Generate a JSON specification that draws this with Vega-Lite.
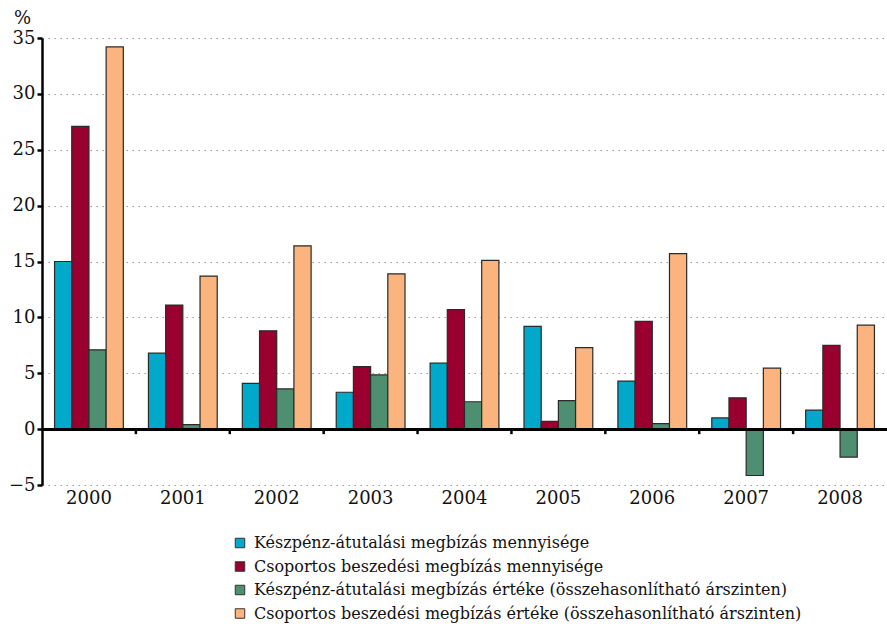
{
  "$schema": "https://vega.github.io/schema/vega-lite/v6.json",
  "width": 845,
  "height": 447,
  "autosize": {"type": "none"},
  "padding": {"left": 42, "top": 38, "right": 0, "bottom": 145},
  "background": "white",
  "config": {
    "view": {"stroke": null},
    "font": "DejaVu Serif"
  },
  "data": {
    "values": [
      {"year": "2000", "series": "Készpénz-átutalási megbízás mennyisége", "value": 15.0},
      {"year": "2000", "series": "Csoportos beszedési megbízás mennyisége", "value": 27.1},
      {"year": "2000", "series": "Készpénz-átutalási megbízás értéke (összehasonlítható árszinten)", "value": 7.1},
      {"year": "2000", "series": "Csoportos beszedési megbízás értéke (összehasonlítható árszinten)", "value": 34.2},
      {"year": "2001", "series": "Készpénz-átutalási megbízás mennyisége", "value": 6.8},
      {"year": "2001", "series": "Csoportos beszedési megbízás mennyisége", "value": 11.1},
      {"year": "2001", "series": "Készpénz-átutalási megbízás értéke (összehasonlítható árszinten)", "value": 0.4},
      {"year": "2001", "series": "Csoportos beszedési megbízás értéke (összehasonlítható árszinten)", "value": 13.7},
      {"year": "2002", "series": "Készpénz-átutalási megbízás mennyisége", "value": 4.1},
      {"year": "2002", "series": "Csoportos beszedési megbízás mennyisége", "value": 8.8},
      {"year": "2002", "series": "Készpénz-átutalási megbízás értéke (összehasonlítható árszinten)", "value": 3.6},
      {"year": "2002", "series": "Csoportos beszedési megbízás értéke (összehasonlítható árszinten)", "value": 16.4},
      {"year": "2003", "series": "Készpénz-átutalási megbízás mennyisége", "value": 3.3},
      {"year": "2003", "series": "Csoportos beszedési megbízás mennyisége", "value": 5.6},
      {"year": "2003", "series": "Készpénz-átutalási megbízás értéke (összehasonlítható árszinten)", "value": 4.85},
      {"year": "2003", "series": "Csoportos beszedési megbízás értéke (összehasonlítható árszinten)", "value": 13.9},
      {"year": "2004", "series": "Készpénz-átutalási megbízás mennyisége", "value": 5.9},
      {"year": "2004", "series": "Csoportos beszedési megbízás mennyisége", "value": 10.7},
      {"year": "2004", "series": "Készpénz-átutalási megbízás értéke (összehasonlítható árszinten)", "value": 2.45},
      {"year": "2004", "series": "Csoportos beszedési megbízás értéke (összehasonlítható árszinten)", "value": 15.1},
      {"year": "2005", "series": "Készpénz-átutalási megbízás mennyisége", "value": 9.2},
      {"year": "2005", "series": "Csoportos beszedési megbízás mennyisége", "value": 0.7},
      {"year": "2005", "series": "Készpénz-átutalási megbízás értéke (összehasonlítható árszinten)", "value": 2.55},
      {"year": "2005", "series": "Csoportos beszedési megbízás értéke (összehasonlítható árszinten)", "value": 7.3},
      {"year": "2006", "series": "Készpénz-átutalási megbízás mennyisége", "value": 4.3},
      {"year": "2006", "series": "Csoportos beszedési megbízás mennyisége", "value": 9.65},
      {"year": "2006", "series": "Készpénz-átutalási megbízás értéke (összehasonlítható árszinten)", "value": 0.5},
      {"year": "2006", "series": "Csoportos beszedési megbízás értéke (összehasonlítható árszinten)", "value": 15.7},
      {"year": "2007", "series": "Készpénz-átutalási megbízás mennyisége", "value": 1.0},
      {"year": "2007", "series": "Csoportos beszedési megbízás mennyisége", "value": 2.8},
      {"year": "2007", "series": "Készpénz-átutalási megbízás értéke (összehasonlítható árszinten)", "value": -4.15},
      {"year": "2007", "series": "Csoportos beszedési megbízás értéke (összehasonlítható árszinten)", "value": 5.45},
      {"year": "2008", "series": "Készpénz-átutalási megbízás mennyisége", "value": 1.7},
      {"year": "2008", "series": "Csoportos beszedési megbízás mennyisége", "value": 7.5},
      {"year": "2008", "series": "Készpénz-átutalási megbízás értéke (összehasonlítható árszinten)", "value": -2.5},
      {"year": "2008", "series": "Csoportos beszedési megbízás értéke (összehasonlítható árszinten)", "value": 9.3}
    ]
  },
  "encoding": {
    "x": {
      "field": "year",
      "type": "nominal",
      "scale": {"paddingInner": 0, "paddingOuter": 0},
      "axis": {
        "title": null,
        "labelAngle": 0,
        "domain": false,
        "ticks": false,
        "labelFontSize": 18,
        "labelColor": "#111",
        "labelPadding": 4,
        "labelFont": "DejaVu Serif"
      }
    }
  },
  "layer": [
    {
      "mark": {"type": "bar", "stroke": "#2a2a2a", "strokeWidth": 1.2},
      "encoding": {
        "xOffset": {
          "field": "series",
          "type": "nominal",
          "sort": [
            "Készpénz-átutalási megbízás mennyisége",
            "Csoportos beszedési megbízás mennyisége",
            "Készpénz-átutalási megbízás értéke (összehasonlítható árszinten)",
            "Csoportos beszedési megbízás értéke (összehasonlítható árszinten)"
          ],
          "scale": {"paddingInner": 0, "paddingOuter": 0.73}
        },
        "y": {
          "field": "value",
          "type": "quantitative",
          "scale": {"domain": [-5, 35], "nice": false, "zero": false},
          "axis": {
            "title": "%",
            "titleAngle": 0,
            "titleX": -20,
            "titleY": -20,
            "titleAlign": "center",
            "titleBaseline": "middle",
            "titleFont": "DejaVu Serif",
            "titleFontSize": 18,
            "titleFontWeight": "normal",
            "titleColor": "#111",
            "values": [-5, 0, 5, 10, 15, 20, 25, 30, 35],
            "labelExpr": "datum.value < 0 ? '\u2212' + abs(datum.value) : datum.label",
            "labelFontSize": 18,
            "labelFont": "DejaVu Serif",
            "labelColor": "#111",
            "labelPadding": 2,
            "domainColor": "#000",
            "domainWidth": 2.5,
            "tickColor": "#000",
            "tickWidth": 2.5,
            "tickSize": 5,
            "grid": true,
            "gridDash": [1.5, 4.5],
            "gridColor": "#999",
            "gridWidth": 1.2
          }
        },
        "color": {
          "field": "series",
          "type": "nominal",
          "scale": {
            "domain": [
              "Készpénz-átutalási megbízás mennyisége",
              "Csoportos beszedési megbízás mennyisége",
              "Készpénz-átutalási megbízás értéke (összehasonlítható árszinten)",
              "Csoportos beszedési megbízás értéke (összehasonlítható árszinten)"
            ],
            "range": ["#00A9C9", "#990030", "#4E8F72", "#FBB47E"]
          },
          "legend": {
            "title": null,
            "orient": "none",
            "legendX": 190,
            "legendY": 497,
            "direction": "vertical",
            "columns": 1,
            "symbolType": "square",
            "symbolSize": 90,
            "symbolStrokeColor": "#333",
            "symbolStrokeWidth": 1,
            "labelFont": "DejaVu Serif",
            "labelFontSize": 16,
            "labelColor": "#111",
            "labelLimit": 700,
            "rowPadding": 7.5,
            "symbolOffset": 0,
            "labelOffset": 6
          }
        }
      }
    },
    {
      "mark": {"type": "rule", "color": "#000", "strokeWidth": 2.5},
      "encoding": {"y": {"datum": 0, "type": "quantitative"}, "x": null}
    },
    {
      "transform": [
        {"filter": "datum.year != '2000' && datum.series == 'Készpénz-átutalási megbízás mennyisége'"}
      ],
      "mark": {"type": "rule", "color": "#000", "strokeWidth": 2.5},
      "encoding": {
        "x": {"field": "year", "type": "nominal", "bandPosition": 0},
        "y": {"datum": 0, "type": "quantitative"},
        "y2": {"datum": -0.45}
      }
    }
  ]
}
